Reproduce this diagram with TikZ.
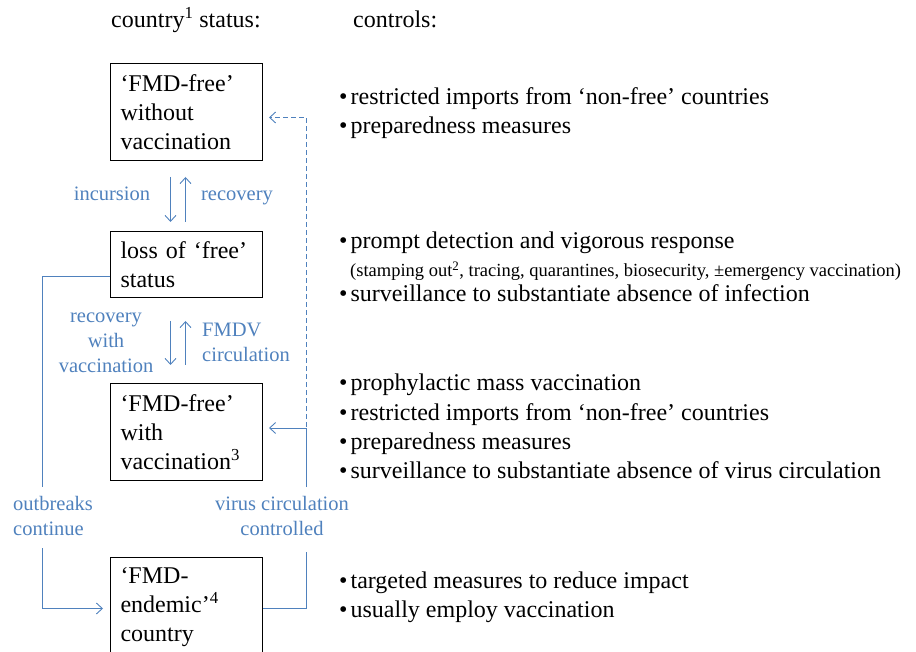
\documentclass[tikz,border=0pt]{standalone}
\usepackage{fontspec}
\setmainfont{Liberation Serif}
\usetikzlibrary{arrows.meta}
\definecolor{lblue}{RGB}{79,129,189}
\tikzset{
  statebox/.style={draw=black, line width=1pt, minimum width=152pt, minimum height=97pt,
    anchor=north west, align=left, text width=132pt, inner xsep=10pt, inner ysep=0pt,
    font=\fontsize{24}{29}\selectfont},
  bul/.style={anchor=base west, inner sep=0pt, font=\fontsize{24}{29}\selectfont},
  small/.style={anchor=base west, inner sep=0pt, font=\fontsize{18.5}{22}\selectfont},
  head/.style={anchor=base west, inner sep=0pt, font=\fontsize{24}{29}\selectfont},
  lab/.style={text=lblue, inner sep=0pt, font=\fontsize{20.5}{25}\selectfont},
  conn/.style={draw=lblue, line width=0.9pt},
  arr/.style={conn, -{Straight Barb[length=6pt,width=11pt,line width=0.9pt]}},
}
\newcommand{\bu}{\textbullet\hspace{3pt}}
\begin{document}
\begin{tikzpicture}[x=1pt,y=-1pt]
\useasboundingbox (0,0) rectangle (916,652);
\clip (0,0) rectangle (916,652);

% headers
\node[head] (h1) at (111,28) {country\textsuperscript{1} status:};
\node[head] (h2) at (353,28) {controls:};

% state boxes
\node[statebox] (b1) at (110,63) {‘FMD-free’\\without\\vaccination};
\node[statebox, minimum height=66pt] (b2) at (110,231) {loss of ‘free’\\status};
\node[statebox] (b3) at (110,383) {‘FMD-free’\\with\\vaccination\textsuperscript{3}};
\node[statebox, minimum height=100pt] (b4) at (110,557) {‘FMD-\\endemic’\textsuperscript{4}\\country};

% transitions b1 <-> b2
\draw[arr] ([xshift=-16pt,yshift=-16pt]b1.south) -- ([xshift=-16pt,yshift=9pt]b2.north);
\draw[arr] ([xshift=-1pt,yshift=9pt]b2.north) -- ([xshift=-1pt,yshift=-16pt]b1.south);
\node[lab, anchor=base] (l1) at (112,201) {incursion};
\node[lab, anchor=base] (l2) at (237,201) {recovery};

% transitions b2 <-> b3
\draw[arr] ([xshift=-16pt,yshift=-23pt]b2.south) -- ([xshift=-16pt,yshift=18pt]b3.north);
\draw[arr] ([xshift=-1pt,yshift=18pt]b3.north) -- ([xshift=-1pt,yshift=-23pt]b2.south);
\node[lab, align=center] (l3) at (106,343) {recovery\\with\\vaccination};
\node[lab, align=left, anchor=west] (l4) at (202,342.5) {FMDV\\circulation};

% left loop: outbreaks continue
\coordinate (lt) at (42,487);
\coordinate (lb) at (42,548);
\draw[conn] ([yshift=-12pt]b2.west) -| (lt);
\draw[arr] (lb) |- ([xshift=-7pt,yshift=-1pt]b4.west);
\node[lab, align=left, anchor=west] (l5) at (13,516) {outbreaks\\continue};

% right loop: virus circulation controlled
\coordinate (rb) at (306,552);
\coordinate (rt) at (306,487);
\coordinate (rj) at (306,427);
\draw[conn] ([yshift=-1pt]b4.east) -| (rb);
\draw[arr] (rt) |- ([xshift=6pt,yshift=4pt]b3.east);
\draw[arr, dashed, dash pattern=on 5pt off 3pt] (rj) |- ([xshift=6pt,yshift=-5.5pt]b1.east);
\node[lab, align=center] (l6) at (282,516) {virus circulation\\controlled};

% controls
\node[bul] (c1) at (339,105) {\bu restricted imports from ‘non-free’ countries};
\node[bul] (c2) at (339,134) {\bu preparedness measures};
\node[bul] (c3) at (339,249) {\bu prompt detection and vigorous response};
\node[small] (c4) at (350,277) {(stamping out\textsuperscript{2}, tracing, quarantines, biosecurity, ±emergency vaccination)};
\node[bul] (c5) at (339,302) {\bu surveillance to substantiate absence of infection};
\node[bul] (c6) at (339,391) {\bu prophylactic mass vaccination};
\node[bul] (c7) at (339,420) {\bu restricted imports from ‘non-free’ countries};
\node[bul] (c8) at (339,449) {\bu preparedness measures};
\node[bul] (c9) at (339,478) {\bu surveillance to substantiate absence of virus circulation};
\node[bul] (c10) at (339,588) {\bu targeted measures to reduce impact};
\node[bul] (c11) at (339,617) {\bu usually employ vaccination};
\end{tikzpicture}
\end{document}
